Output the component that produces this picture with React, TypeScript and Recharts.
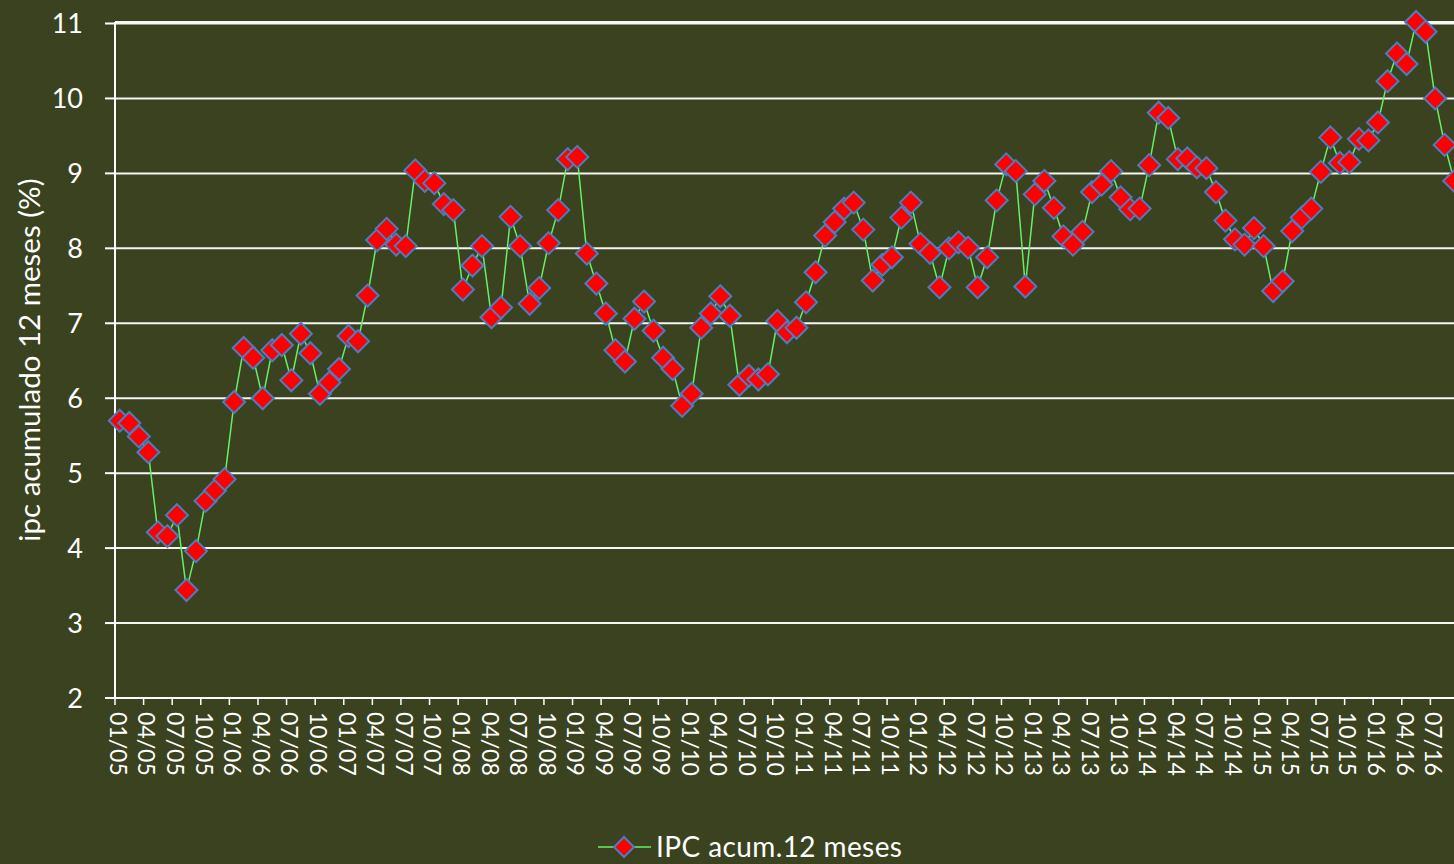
import React from 'react';
import { LineChart, Line, XAxis, YAxis, CartesianGrid } from 'recharts';

// IPC acumulado 12 meses (%), monthly from 01/05
const ipc2005 = [5.70, 5.67, 5.49, 5.28, 4.21, 4.16, 4.44, 3.44, 3.96, 4.63, 4.77, 4.92];
const ipc2006 = [5.95, 6.67, 6.54, 6.00, 6.64, 6.71, 6.24, 6.86, 6.60, 6.06, 6.21, 6.39];
const ipc2007 = [6.83, 6.76, 7.37, 8.11, 8.26, 8.05, 8.03, 9.04, 8.90, 8.87, 8.59, 8.51];
const ipc2008 = [7.45, 7.77, 8.03, 7.08, 7.21, 8.42, 8.03, 7.26, 7.47, 8.07, 8.51, 9.19];
const ipc2009 = [9.22, 7.93, 7.53, 7.13, 6.64, 6.49, 7.06, 7.29, 6.90, 6.54, 6.39, 5.90];
const ipc2010 = [6.06, 6.94, 7.13, 7.36, 7.10, 6.18, 6.30, 6.25, 6.32, 7.03, 6.88, 6.94];
const ipc2011 = [7.28, 7.68, 8.17, 8.35, 8.53, 8.61, 8.25, 7.57, 7.78, 7.88, 8.41, 8.61];
const ipc2012 = [8.06, 7.94, 7.48, 8.00, 8.08, 8.01, 7.48, 7.88, 8.64, 9.12, 9.03, 7.49];
const ipc2013 = [8.72, 8.90, 8.54, 8.16, 8.05, 8.22, 8.75, 8.85, 9.03, 8.68, 8.52, 8.53];
const ipc2014 = [9.11, 9.81, 9.74, 9.19, 9.20, 9.08, 9.07, 8.75, 8.37, 8.12, 8.05, 8.27];
const ipc2015 = [8.03, 7.43, 7.56, 8.23, 8.41, 8.53, 9.02, 9.48, 9.14, 9.15, 9.46, 9.44];
const ipc2016 = [9.68, 10.23, 10.60, 10.46, 11.02, 10.89, 10.00, 9.38, 8.90];

const years = ['05', '06', '07', '08', '09', '10', '11', '12', '13', '14', '15', '16'];
const monthCodes = ['01', '02', '03', '04', '05', '06', '07', '08', '09', '10', '11', '12'];
const seriesByYear = [ipc2005, ipc2006, ipc2007, ipc2008, ipc2009, ipc2010, ipc2011, ipc2012, ipc2013, ipc2014, ipc2015, ipc2016];
const yTicks = [2, 3, 4, 5, 6, 7, 8, 9, 10, 11];
const seriesName = 'IPC acum.12 meses';
const yTitle = 'ipc acumulado 12 meses (%)';

const data: { label: string; ipc: number }[] = [];
seriesByYear.forEach((vals, yi) => {
  vals.forEach((v, mi) => {
    data.push({ label: `${monthCodes[mi]}/${years[yi]}`, ipc: v });
  });
});

const BG = '#3A4220';
const LINE = '#66F066';
const FILL = '#FF0000';
const EDGE = '#4A7EC0';

const CHART_W = 1460;
const CHART_H = 864;
const MARGIN = { top: 22, right: 1, bottom: 0, left: 0 };
const Y_W = 115;
const PLOT_W = CHART_W - MARGIN.left - MARGIN.right - Y_W;
const BAND = PLOT_W / data.length;

const XTick = (props: any) => {
  const { x, y, payload } = props;
  const lx = x - BAND / 2;
  return (
    <g>
      <line x1={lx} x2={lx} y1={y} y2={y + 7} stroke="#fff" strokeWidth={1.5} />
      <text
        x={0}
        y={0}
        transform={`translate(${x - 1},${y + 14}) rotate(90)`}
        textAnchor="start"
        dominantBaseline="central"
        fill="#fff"
        fontSize={23}
      >
        {payload.value}
      </text>
    </g>
  );
};

const Diamond = (props: any) => {
  const { cx, cy, index } = props;
  if (cx == null || cy == null) return <g key={index} />;
  const r = 11;
  return (
    <path
      key={index}
      d={`M${cx},${cy - r}L${cx + r},${cy}L${cx},${cy + r}L${cx - r},${cy}Z`}
      fill={FILL}
      stroke={EDGE}
      strokeWidth={2}
    />
  );
};

export default function App() {
  return (
    <div
      style={{
        position: 'fixed',
        left: 0,
        top: 0,
        width: 1454,
        height: 864,
        overflow: 'hidden',
        background: BG,
        fontFamily: 'Lato, "Open Sans", sans-serif',
      }}
    >
      <LineChart width={CHART_W} height={CHART_H} data={data} margin={MARGIN}>
        <CartesianGrid horizontal vertical={false} stroke="#ffffff" strokeWidth={2} strokeOpacity={0.95} />
        <XAxis
          dataKey="label"
          interval={2}
          height={CHART_H - 698}
          padding={{ left: BAND / 2, right: BAND / 2 }}
          tick={<XTick />}
          tickLine={false}
          tickSize={0}
          tickMargin={0}
          axisLine={{ stroke: '#fff', strokeWidth: 2 }}
        />
        <YAxis
          domain={[2, 11]}
          ticks={yTicks}
          width={Y_W}
          tick={{ fill: '#fff', fontSize: 27 }}
          tickLine={{ stroke: '#fff', strokeWidth: 2 }}
          tickSize={10}
          tickMargin={22}
          axisLine={{ stroke: '#fff', strokeWidth: 2 }}
          label={{
            value: yTitle,
            angle: -90,
            position: 'insideLeft',
            offset: 30,
            fill: '#fff',
            fontSize: 29.5,
            style: { textAnchor: 'middle' },
          }}
        />
        <Line
          type="linear"
          dataKey="ipc"
          name={seriesName}
          stroke={LINE}
          strokeWidth={1.5}
          dot={Diamond}
          activeDot={false}
          isAnimationActive={false}
        />
      </LineChart>
      <div
        style={{
          position: 'absolute',
          left: 597,
          top: 829,
          height: 34,
          display: 'flex',
          alignItems: 'center',
          color: '#fff',
          fontSize: 28,
          lineHeight: 'normal',
          whiteSpace: 'nowrap',
        }}
      >
        <svg width={56} height={26} style={{ display: 'block', marginTop: 2 }}>
          <line x1={1} x2={54} y1={13} y2={13} stroke={LINE} strokeWidth={1.5} />
          <path d="M27,3L37,13L27,23L17,13Z" fill={FILL} stroke={EDGE} strokeWidth={2} />
        </svg>
        <span style={{ marginLeft: 3, letterSpacing: 0.4 }}>{seriesName}</span>
      </div>
    </div>
  );
}
